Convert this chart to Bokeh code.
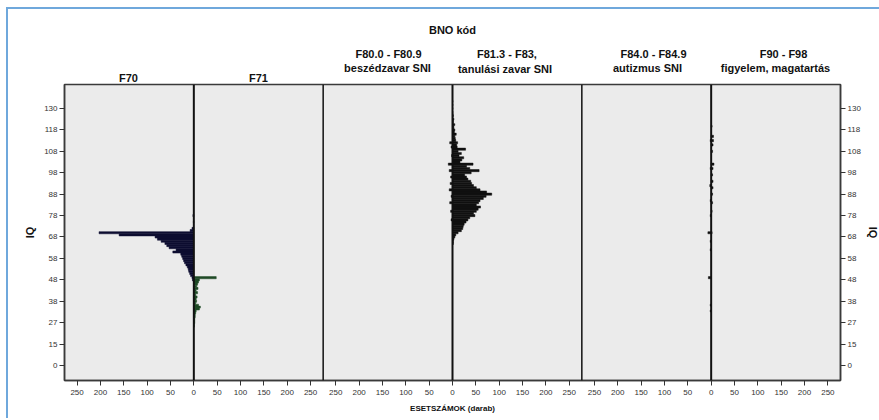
import numpy as np
from bokeh.plotting import figure
from bokeh.layouts import column
from bokeh.models import Range1d, FixedTicker, LinearAxis, Span, ColumnDataSource
from bokeh.core.properties import value
from bokeh.embed import file_html
from bokeh.resources import INLINE

# ---------------- data ----------------
iq_tick_labels = [0, 15, 27, 38, 48, 58, 68, 78, 88, 98, 108, 118, 130]
count_ticks = [0, 50, 100, 150, 200, 250]

main_title = "BNO kód"
x_title = "ESETSZÁMOK (darab)"
y_title = "IQ"

# panel headings, one list per text line
heading_line1 = ["F80.0 - F80.9", "F81.3 -  F83,", "F84.0 - F84.9", "F90 - F98"]
heading_line2 = ["beszédzavar SNI", "tanulási  zavar SNI", "autizmus SNI", "figyelem, magatartás"]
heading_single = ["F70", "F71"]

# F70 (left half of pair 1)
f70_iq = [48, 49, 50, 51, 52, 53, 54, 55, 56, 57, 58, 59, 60, 61, 62, 63, 64, 65, 66, 67, 68, 69, 70, 71, 72, 75, 78]
f70_n = [3, 4, 7, 9, 11, 12, 14, 17, 20, 22, 24, 26, 28, 45, 38, 53, 58, 62, 70, 78, 83, 160, 203, 8, 4, 1, 2]

# F71 (right half of pair 1)
f71_iq = [25, 26, 27, 28, 29, 30, 31, 32, 33, 34, 35, 36, 37, 38, 39, 40, 41, 42, 43, 44, 45, 46, 47, 48, 49]
f71_n = [1, 1, 2, 2, 2, 3, 3, 4, 5, 12, 14, 10, 4, 6, 5, 7, 4, 8, 5, 9, 6, 8, 10, 12, 48]

# F80.0 - F80.9 (left half of pair 2)
f80_iq = [76, 80, 84, 87, 90, 93, 96, 99, 102, 106, 110, 112]
f80_n = [3, 4, 6, 3, 7, 5, 4, 7, 9, 2, 3, 6]

# F81.3 - F83 (right half of pair 2)
f81_iq = [65, 66, 67, 68, 69, 70, 71, 72, 73, 74, 75, 76, 77, 78, 79, 80, 81, 82, 83, 84,
          85, 86, 87, 88, 89, 90, 91, 92, 93, 94, 95, 96, 97, 98, 99, 100, 101, 102, 103, 104,
          105, 106, 107, 108, 109, 110, 111, 112, 113, 114, 115, 116, 117, 118, 119, 120, 121, 122, 123, 124,
          125, 126, 127, 128, 130, 132, 134]
f81_n = [2, 2, 3, 5, 7, 12, 19, 22, 23, 25, 29, 33, 37, 48, 45, 51, 55, 60, 51, 56,
         59, 66, 72, 84, 73, 59, 51, 45, 41, 39, 33, 30, 26, 40, 57, 37, 30, 44, 16, 20,
         24, 14, 19, 12, 28, 10, 9, 11, 7, 6, 5, 8, 4, 5, 3, 3, 5, 2, 2, 3,
         1, 2, 1, 1, 1, 1, 1]

# F84.0 - F84.9 (left half of pair 3)
f84_iq = [33, 36, 49, 62, 66, 70, 78, 85, 92, 100, 113]
f84_n = [2, 2, 6, 2, 2, 7, 2, 2, 3, 2, 2]

# F90 - F98 (right half of pair 3)
f90_iq = [70, 80, 84, 88, 91, 94, 97, 100, 102, 108, 111, 113, 115, 120]
f90_n = [2, 2, 3, 3, 4, 4, 3, 4, 6, 3, 4, 5, 5, 2]

# ---------------- layout constants ----------------
PAGE_W = 879
HEAD_H = 82
W = 277                       # count range of each half panel
FL, FR = 64, 840              # frame edges (px)
FW, FH = FR - FL, 296
Y0, Y1 = -0.7, 13.12
FONT = "Liberation Sans"
BLUE = "#6fa8dc"


def ypos(iq):
    iq = np.asarray(iq, dtype=float)
    idx = np.interp(iq, iq_tick_labels, np.arange(len(iq_tick_labels)))
    return idx + np.where(iq > iq_tick_labels[-1], (iq - iq_tick_labels[-1]) / 12.0, 0.0)


# ---------------- header (titles) ----------------
# frame spans the same horizontal pixels as the chart frame; x data = page px
h = figure(frame_width=FW, frame_height=HEAD_H,
           x_range=Range1d(FL, FR), y_range=Range1d(HEAD_H, 0),
           output_backend="svg", toolbar_location=None, x_axis_location=None, y_axis_location=None,
           min_border_left=FL, min_border_right=PAGE_W - FR, min_border_top=0, min_border_bottom=0,
           outline_line_color=None, background_fill_color=None, border_fill_color=None)
h.grid.visible = False
h.styles = {"background": ("linear-gradient({b}, {b}) 6px 7px / 100% 2px no-repeat, "
                           "linear-gradient({b}, {b}) 6px 7px / 2px 100% no-repeat, white").format(b=BLUE)}

head_src = ColumnDataSource(dict(
    text=[main_title] + heading_single + heading_line1 + heading_line2,
    x=[452, 128, 258, 388, 508, 653, 783, 387, 506, 647, 775],
    y=[29, 77, 77, 53, 53, 53, 53, 67, 68, 67, 67],
))
h.text(x="x", y="y", text="text", source=head_src, text_align="center",
       text_baseline="alphabetic", text_font=value(FONT), text_font_size="11px",
       text_font_style="bold", text_color="#111111")

# ---------------- main chart ----------------
p = figure(frame_width=FW, frame_height=FH,
           x_range=Range1d(0, 6 * W), y_range=Range1d(Y0, Y1),
           output_backend="svg", toolbar_location=None,
           min_border_left=FL, min_border_right=PAGE_W - FR, min_border_top=2, min_border_bottom=38,
           background_fill_color="#ebebeb", border_fill_color=None,
           outline_line_color="#3a3a3a", outline_line_width=1.5)
p.grid.visible = False
p.styles = {"background": "linear-gradient({b}, {b}) 6px 0 / 2px 100% no-repeat, white".format(b=BLUE)}

# x ticks (mirrored count scales)
xt, xover = [], {}
for j in range(3):
    c = W * (2 * j + 1)
    for t in count_ticks:
        for s in (-1, 1):
            pos = c + s * t
            if pos not in xt:
                xt.append(pos)
            xover[pos] = str(t)
p.xaxis.ticker = FixedTicker(ticks=sorted(xt))
p.xaxis.major_label_overrides = xover

yt = list(range(len(iq_tick_labels)))
yover = {i: str(v) for i, v in enumerate(iq_tick_labels)}
p.yaxis.ticker = FixedTicker(ticks=yt)
p.yaxis.major_label_overrides = yover

right_axis = LinearAxis(ticker=FixedTicker(ticks=yt), major_label_overrides=yover)
p.add_layout(right_axis, "right")

for ax in p.xaxis + p.yaxis:
    ax.axis_line_color = "#3a3a3a"
    ax.axis_line_width = 1.5
    ax.major_tick_line_color = "#333333"
    ax.major_tick_out = 5
    ax.major_tick_in = 0
    ax.minor_tick_line_color = None
    ax.major_label_text_font = FONT
    ax.major_label_text_font_size = "8px"
    ax.major_label_text_color = "#333333"
    ax.major_label_standoff = 2
    ax.axis_label_text_font = FONT
    ax.axis_label_text_font_style = "bold"
    ax.axis_label_text_color = "#111111"
p.xaxis.major_label_standoff = 4

p.left[0].axis_label = y_title
p.left[0].axis_label_text_font_size = "11px"
p.left[0].axis_label_standoff = 5
right_axis.axis_label = y_title
right_axis.axis_label_text_font_size = "11px"
right_axis.axis_label_standoff = 3
p.below[0].axis_label = x_title
p.below[0].axis_label_text_font_size = "8px"
p.below[0].axis_label_standoff = 6

# separators
for k in range(1, 6):
    p.add_layout(Span(location=k * W, dimension="height", line_color="#111111",
                      line_width=2 if k % 2 == 1 else 1.5))

series = [
    (f70_iq, f70_n, W, -1, "#0d0d30"),
    (f71_iq, f71_n, W, 1, "#1f4a26"),
    (f80_iq, f80_n, 3 * W, -1, "#111111"),
    (f81_iq, f81_n, 3 * W, 1, "#111111"),
    (f84_iq, f84_n, 5 * W, -1, "#111111"),
    (f90_iq, f90_n, 5 * W, 1, "#111111"),
]
for iq, n, c, s, col in series:
    iq = np.asarray(iq, dtype=float)
    n = np.asarray(n, dtype=float)
    src = ColumnDataSource(dict(
        y=ypos(iq),
        h=ypos(iq + 0.5) - ypos(iq - 0.5),
        left=c - n if s < 0 else np.full_like(n, c),
        right=np.full_like(n, c) if s < 0 else c + n,
    ))
    p.hbar(y="y", height="h", left="left", right="right", source=src,
           fill_color=col, line_color=col, line_width=0.5)

layout = column(h, p, spacing=0)
open("out.html", "w").write(file_html(layout, INLINE))
